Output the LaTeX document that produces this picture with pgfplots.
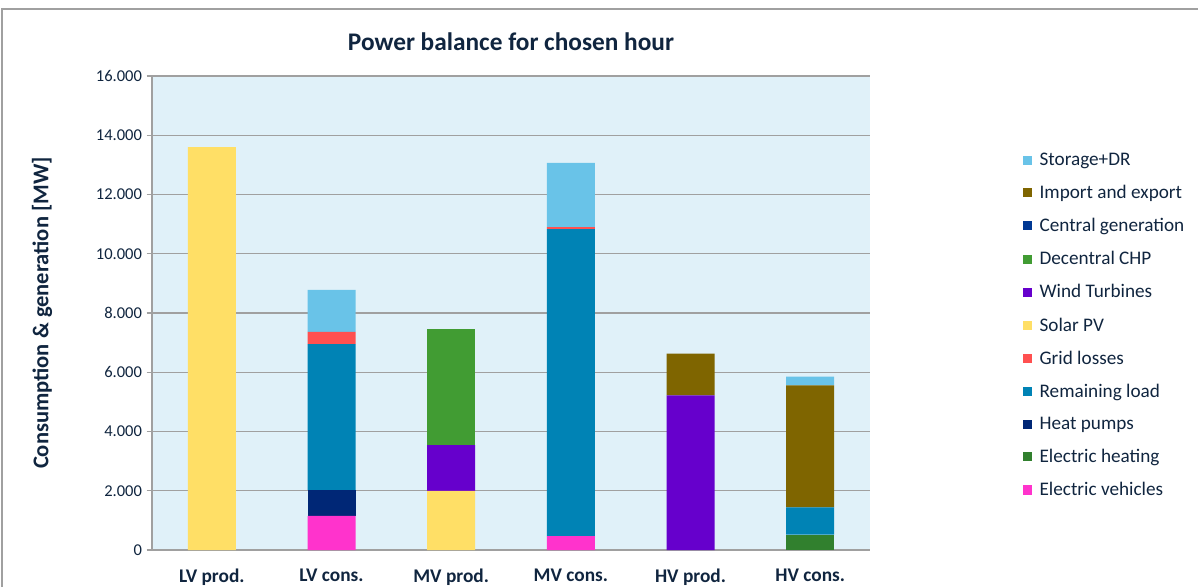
\documentclass[border=0pt]{standalone}
\usepackage{fontspec}
\setmainfont{Carlito}
\usepackage{pgfplots}
\pgfplotsset{compat=1.18}
\definecolor{txt}{RGB}{16,37,63}
\definecolor{plotbg}{RGB}{224,241,249}
\definecolor{gridc}{RGB}{160,160,160}
\definecolor{cStor}{RGB}{105,195,232}
\definecolor{cImp}{RGB}{127,101,0}
\definecolor{cCent}{RGB}{0,56,147}
\definecolor{cChp}{RGB}{65,156,51}
\definecolor{cWind}{RGB}{102,0,204}
\definecolor{cSolar}{RGB}{255,223,102}
\definecolor{cLoss}{RGB}{255,80,80}
\definecolor{cRem}{RGB}{0,131,181}
\definecolor{cHp}{RGB}{0,39,118}
\definecolor{cHeat}{RGB}{49,128,46}
\definecolor{cEv}{RGB}{255,51,204}
\begin{document}
\begin{tikzpicture}
\path[use as bounding box] (0,0) rectangle (898.5pt,440.25pt);
\draw[gridc, line width=1pt] (1.5pt,0) -- (1.5pt,433.5pt) -- (898.5pt,433.5pt);
\begin{axis}[
    at={(114pt,27.75pt)}, anchor=south west,
    scale only axis, width=538.5pt, height=355.5pt,
    ybar stacked, bar width=36pt,
    xmin=-0.5, xmax=5.5, ymin=0, ymax=16000,
    xtick={0,...,5},
    xticklabels={LV prod., LV cons., MV prod., MV cons., HV prod., HV cons.},
    x tick label style={font=\bfseries\fontsize{14.5}{16}\selectfont, text=txt, yshift=-6.5pt},
    minor xtick={-0.5,0.5,...,5.5},
    ytick={0,2000,...,16000},
    scaled y ticks=false,
    /pgf/number format/fixed,
    /pgf/number format/1000 sep={.},
    /pgf/number format/assume math mode=true,
    y tick label style={font=\fontsize{12.4}{14}\selectfont, text=txt},
    axis x line*=bottom, axis y line*=left,
    axis line style={gridc, line width=0.8pt, -},
    tick align=outside,
    major tick length=4pt, minor tick length=4pt,
    xtick style={draw=none},
    minor x tick style={gridc, line width=0.8pt},
    ytick style={gridc, line width=0.8pt},
    ymajorgrids, major grid style={gridc, line width=0.8pt},
    axis background/.style={fill=plotbg},
    title={Power balance for chosen hour},
    title style={font=\bfseries\fontsize{19}{22}\selectfont, text=txt, at={(axis description cs:0.5,1)}, anchor=center, yshift=19.5pt},
    ylabel={Consumption \& generation [MW]},
    ylabel style={font=\bfseries\fontsize{16.9}{19}\selectfont, text=txt, at={(axis description cs:-0.153,0.5)}, anchor=center},
    reverse legend,
    legend cell align=left,
    legend style={at={(axis description cs:1.213,0.844)}, anchor=north west, draw=none, fill=none,
        font=\fontsize{14.4}{16}\selectfont, text=txt, row sep=9.35pt, column sep=3.5pt, inner sep=0pt},
    legend image code/.code={\fill[#1] (0pt,-3.4pt) rectangle (6.8pt,3.4pt);},
]
\addplot[fill=cEv, draw=none] coordinates {(0,0) (1,1150) (2,0) (3,470) (4,0) (5,0)};
\addplot[fill=cHeat, draw=none] coordinates {(0,0) (1,0) (2,0) (3,0) (4,0) (5,520)};
\addplot[fill=cHp, draw=none] coordinates {(0,0) (1,875) (2,0) (3,0) (4,0) (5,0)};
\addplot[fill=cRem, draw=none] coordinates {(0,0) (1,4925) (2,0) (3,10360) (4,0) (5,920)};
\addplot[fill=cLoss, draw=none] coordinates {(0,0) (1,410) (2,0) (3,70) (4,0) (5,0)};
\addplot[fill=cSolar, draw=none] coordinates {(0,13600) (1,0) (2,2000) (3,0) (4,0) (5,0)};
\addplot[fill=cWind, draw=none] coordinates {(0,0) (1,0) (2,1540) (3,0) (4,5220) (5,0)};
\addplot[fill=cChp, draw=none] coordinates {(0,0) (1,0) (2,3930) (3,0) (4,0) (5,0)};
\addplot[fill=cCent, draw=none] coordinates {(0,0) (1,0) (2,0) (3,0) (4,0) (5,0)};
\addplot[fill=cImp, draw=none] coordinates {(0,0) (1,0) (2,0) (3,0) (4,1410) (5,4120)};
\addplot[fill=cStor, draw=none] coordinates {(0,0) (1,1420) (2,0) (3,2170) (4,0) (5,290)};
\legend{Electric vehicles, Electric heating, Heat pumps, Remaining load, Grid losses, Solar PV, Wind Turbines, Decentral CHP, Central generation, Import and export, Storage+DR}
\end{axis}
\end{tikzpicture}
\end{document}
